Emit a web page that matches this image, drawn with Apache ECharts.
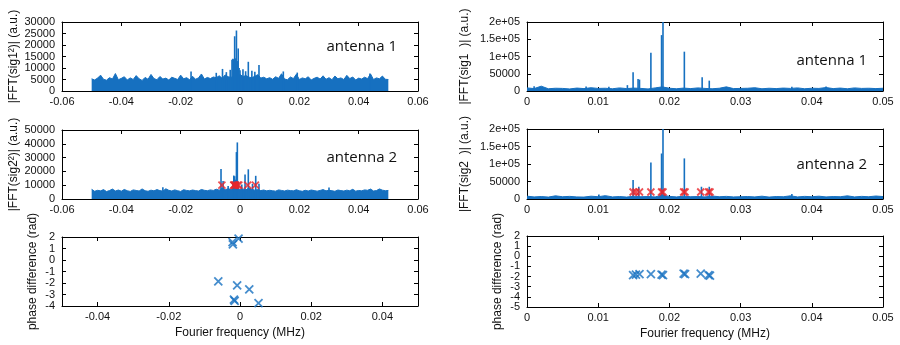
<!DOCTYPE html>
<html><head><meta charset="utf-8">
<script src="https://cdn.jsdelivr.net/npm/echarts@6/dist/echarts.min.js"></script>
<style>html,body{margin:0;padding:0;background:#fff}#c{width:900px;height:345px}</style>
</head><body><div id="c"></div>
<script>
// ---------- DATA ----------
// left column: frequency grid -0.05 .. 0.05 step 0.001 (MHz)
const leftGridStart = -0.05, leftGridStep = 0.001;
const noiseAnt1Left = [
5300,4800,5600,6900,5100,4700,5800,5200,7600,4900,
5500,6200,4800,5700,5000,6700,5300,4600,5900,5100,
7200,5400,4900,6300,5200,5600,4800,6000,5500,5000,
6900,5300,5800,4900,6400,5100,5700,7400,5200,5900,
5400,6100,5800,6600,5500,7000,6200,5900,6800,6500,
7200,6300,6700,6000,5800,6400,7100,5600,6000,5300,
5800,5100,6200,5500,7500,5200,4900,6100,5400,7300,
5000,5700,5300,6200,4800,5500,6000,5200,6600,5100,
5800,4900,6500,5300,5700,5000,6800,5400,6100,4800,
5600,5200,6000,5400,7400,5000,5700,5300,6500,5100,
5000];
const noiseAnt2Left = [
7000,5600,6300,5900,6800,5400,6100,7200,5800,6500,
5700,6900,6000,5500,6600,6200,5800,7300,6000,5600,
6400,5900,6800,6100,5700,7400,6300,5800,6600,6000,
5500,6700,6200,5900,6500,6100,5800,6900,6300,6000,
6600,6200,7100,6400,8100,6700,7400,7000,6800,7600,
6900,7300,6600,8000,7000,6400,6800,6100,6500,5900,
6300,6000,5700,6600,6200,5800,6400,6100,5900,6700,
6000,5600,6300,5800,6500,6100,5700,6200,6800,5900,
6300,6000,5600,6500,6100,5800,6400,6000,7000,5700,
6200,5900,6600,6300,7200,5800,6100,7300,6400,6000,
6200];
const peakFreqAnt1Left = [-0.0165,-0.0080,-0.0059,-0.0046,-0.0033,-0.0027,-0.0024,-0.0021,-0.0018,-0.0015,-0.0012,-0.0009,-0.0006,-0.0003,0.0000,0.0010,0.0019,0.0028,0.0040,0.0050,0.0064,0.0146,0.0193,0.0438];
const peakAmpAnt1Left  = [8500,7900,9600,8200,9200,13600,14000,13800,23800,14200,26300,13000,18500,10000,9000,9500,8600,12700,8800,8400,11300,8500,8000,7600];
const peakFreqAnt2Left = [-0.0260,-0.0064,-0.0057,-0.0040,-0.0024,-0.0021,-0.0018,-0.0015,-0.0012,-0.0009,-0.0006,0.0006,0.0017,0.0028,0.0042,0.0053,0.0064,0.0300];
const peakAmpAnt2Left  = [8600,21800,13000,9500,12000,17000,16500,14000,34000,41000,12500,10500,17800,21500,11000,16800,11000,8300];
const selFreqLeft  = [-0.0061,-0.0021,-0.0020,-0.0017,-0.0015,-0.0008,-0.0004,0.0026,0.0052];
const phaseLeft    = [-1.85,1.55,1.35,-3.45,-3.55,-2.2,1.85,-2.55,-3.75];
const markLevelLeft = 10000;

// right column: frequency grid 0 .. 0.05 step 0.001
const rightGridStart = 0, rightGridStep = 0.001;
const noiseAnt1Right = [9000,7000,14000,6500,8000,7500,6000,8500,7000,9500,
7500,8000,6500,9000,7000,8500,7500,6000,9000,12000,
8000,6500,8500,7000,9000,7500,6500,8000,12000,7000,
7500,8000,9500,6500,8000,7000,8500,7500,9000,6500,
8000,7500,10000,7000,8500,6500,9000,7500,8000,7000,8000];
const noiseAnt2Right = [8000,6000,7000,5500,9000,6500,7500,6000,5500,8000,
6500,9500,6000,7000,5500,8000,6500,7000,6000,11000,
7500,6000,8000,6500,7000,6000,8500,6500,7500,6000,
6500,7000,6000,8000,5500,7000,6500,9000,6000,7500,
6500,8000,6000,7000,6500,9000,6000,7500,6500,8500,7000];
const peakFreqAnt1Right = [0.0010,0.0083,0.0115,0.0141,0.0149,0.0156,0.0158,0.0174,0.0189,0.0191,0.0221,0.0246,0.0256,0.0372,0.0420];
const peakAmpAnt1Right  = [14000,13000,12000,17000,54000,35000,33000,111000,162000,200000,114000,40000,30000,12000,13000];
const peakFreqAnt2Right = [0.0101,0.0149,0.0157,0.0174,0.0189,0.0191,0.0221,0.0245,0.0256,0.0372];
const peakAmpAnt2Right  = [13000,54000,35000,104000,130000,200000,116000,35000,35000,14000];
const selFreqRight = [0.0149,0.0153,0.0158,0.0174,0.0189,0.0191,0.0220,0.0222,0.0244,0.0255,0.0257];
const phaseRight   = [-1.85,-1.8,-1.75,-1.75,-1.8,-1.85,-1.7,-1.75,-1.7,-1.85,-1.9];
const markLevelRight = 20000;

// tick values and labels
const xTicksSpecLeft = [-0.06,-0.04,-0.02,0,0.02,0.04,0.06];
const xLabelsSpecLeft = ['-0.06','-0.04','-0.02','0','0.02','0.04','0.06'];
const xTicksPhaseLeft = [-0.04,-0.02,0,0.02,0.04];
const xLabelsPhaseLeft = ['-0.04','-0.02','0','0.02','0.04'];
const xTicksRight = [0,0.01,0.02,0.03,0.04,0.05];
const xLabelsRight = ['0','0.01','0.02','0.03','0.04','0.05'];
const yTicks1 = [0,5000,10000,15000,20000,25000,30000];
const yLabels1 = ['0','5000','10000','15000','20000','25000','30000'];
const yTicks2 = [0,10000,20000,30000,40000,50000];
const yLabels2 = ['0','10000','20000','30000','40000','50000'];
const yTicks3 = [-4,-3,-2,-1,0,1,2];
const yLabels3 = ['-4','-3','-2','-1','0','1','2'];
const yTicksR = [0,50000,100000,150000,200000];
const yLabelsR = ['0','50000','1e+05','1.5e+05','2e+05'];
const yTicks6 = [-5,-4,-3,-2,-1,0,1,2];
const yLabels6 = ['-5','-4','-3','-2','-1','0','1','2'];

// ---------- CHART ----------
const BLUE = '#1670c0', RED = '#e8262b';
const FONT = 'Liberation Sans';
const grids = [
  {left:62, top:22, width:356, height:69},
  {left:62, top:130, width:356, height:69},
  {left:62, top:237, width:356, height:69},
  {left:527, top:22, width:356, height:69},
  {left:527, top:129, width:356, height:70},
  {left:527, top:236, width:356, height:71}
];
function fmt(ticks, labels){
  return function(v){
    for (let i=0;i<ticks.length;i++){ if (Math.abs(ticks[i]-v) < 1e-9*Math.max(1,Math.abs(ticks[i]))) return labels[i]; }
    return '';
  };
}
const xAxes = [], yAxes = [], extraYAxes = [];
const labelBase = {fontSize:11, color:'#111', fontFamily:FONT, showMinLabel:true, showMaxLabel:true, hideOverlap:false, interval:0};
function addAxes(gi, xr, xt, xl, yr, yt, yl, yName, yNameGap, xName, splitLabels){
  const common = {type:'value', gridIndex:gi, splitLine:{show:false},
    axisLine:{show:true, onZero:false, lineStyle:{color:'#000', width:1}}};
  xAxes.push(Object.assign({}, common, {min:xr[0], max:xr[1], position:'bottom',
    axisTick:{show:true, inside:true, length:4, customValues:xt, lineStyle:{color:'#000'}},
    axisLabel:Object.assign({show:true, customValues:xt, formatter:fmt(xt,xl), margin:5}, labelBase),
    name: xName || '', nameLocation:'middle', nameGap:21,
    nameTextStyle:{fontSize:12, color:'#111', fontFamily:FONT}}));
  xAxes.push(Object.assign({}, common, {min:xr[0], max:xr[1], position:'top',
    axisTick:{show:true, inside:true, length:4, customValues:xt, lineStyle:{color:'#000'}},
    axisLabel:{show:false}}));
  // labels on the left: when too dense, alternate them over two coincident axes
  const mainLabelVals = splitLabels ? yt.filter((v,i)=>i%2===0) : yt;
  yAxes.push(Object.assign({}, common, {min:yr[0], max:yr[1], position:'left',
    axisTick:{show:true, inside:true, length:4, customValues:yt, lineStyle:{color:'#000'}},
    axisLabel:Object.assign({show:true, customValues:mainLabelVals, formatter:fmt(yt,yl), margin:7}, labelBase),
    name:yName, nameLocation:'middle', nameGap:yNameGap, nameRotate:90,
    nameTextStyle:{fontSize:12, color:'#111', fontFamily:FONT}}));
  yAxes.push(Object.assign({}, common, {min:yr[0], max:yr[1], position:'right',
    axisTick:{show:true, inside:true, length:4, customValues:yt, lineStyle:{color:'#000'}},
    axisLabel:{show:false}}));
  if (splitLabels){
    extraYAxes.push({type:'value', gridIndex:gi, min:yr[0], max:yr[1], position:'left', offset:0,
      splitLine:{show:false}, axisLine:{show:false, onZero:false}, axisTick:{show:false},
      axisLabel:Object.assign({show:true, customValues:yt.filter((v,i)=>i%2===1), formatter:fmt(yt,yl), margin:7}, labelBase)});
  }
}
addAxes(0,[-0.06,0.06],xTicksSpecLeft,xLabelsSpecLeft,[0,30000],yTicks1,yLabels1,'|FFT(sig1²)| (a.u.)',42);
addAxes(1,[-0.06,0.06],xTicksSpecLeft,xLabelsSpecLeft,[0,50000],yTicks2,yLabels2,'|FFT(sig2²)| (a.u.)',42);
addAxes(2,[-0.05,0.05],xTicksPhaseLeft,xLabelsPhaseLeft,[-4,2],yTicks3,yLabels3,'phase difference (rad)',23,'Fourier frequency (MHz)');
addAxes(3,[0,0.05],xTicksRight,xLabelsRight,[0,200000],yTicksR,yLabelsR,'|FFT(sig1  )| (a.u.)',56);
addAxes(4,[0,0.05],xTicksRight,xLabelsRight,[0,200000],yTicksR,yLabelsR,'|FFT(sig2  )| (a.u.)',56);
addAxes(5,[0,0.05],xTicksRight,xLabelsRight,[-5,2],yTicks6,yLabels6,'phase difference (rad)',23,'Fourier frequency (MHz)', true);

function gridPts(start, step, vals){
  return vals.map((v,i)=>[+(start+i*step).toFixed(6), v]);
}
function pairs(xs, ys){ return xs.map((x,i)=>[x, ys[i]]); }
function levelPts(xs, level){ return xs.map(x=>[x, level]); }

const XPATH = 'path://M0 0L10 10M10 0L0 10';
const series = [];
function spectrum(gi, noise, start, step, pf, pa){
  series.push({type:'line', xAxisIndex:gi*2, yAxisIndex:gi*2, data:gridPts(start,step,noise),
    symbol:'none', lineStyle:{color:BLUE, width:1}, areaStyle:{color:BLUE, opacity:1}, z:2, silent:true});
  series.push({type:'bar', xAxisIndex:gi*2, yAxisIndex:gi*2, data:pairs(pf,pa),
    barWidth:1.6, itemStyle:{color:BLUE}, z:3, silent:true});
}
function crosses(gi, data, color, size){
  series.push({type:'scatter', xAxisIndex:gi*2, yAxisIndex:gi*2, data:data,
    symbol:XPATH, symbolSize:size, itemStyle:{color:'rgba(0,0,0,0)', borderColor:color, borderWidth:1.8}, z:5, silent:true});
}
spectrum(0, noiseAnt1Left, leftGridStart, leftGridStep, peakFreqAnt1Left, peakAmpAnt1Left);
spectrum(1, noiseAnt2Left, leftGridStart, leftGridStep, peakFreqAnt2Left, peakAmpAnt2Left);
crosses(1, levelPts(selFreqLeft, markLevelLeft), RED, 7);
crosses(2, pairs(selFreqLeft, phaseLeft), BLUE, 8);
spectrum(3, noiseAnt1Right, rightGridStart, rightGridStep, peakFreqAnt1Right, peakAmpAnt1Right);
spectrum(4, noiseAnt2Right, rightGridStart, rightGridStep, peakFreqAnt2Right, peakAmpAnt2Right);
crosses(4, levelPts(selFreqRight, markLevelRight), RED, 7);
crosses(5, pairs(selFreqRight, phaseRight), BLUE, 8);

const antStyle = {fontSize:15, fontFamily:'Open Sans', fill:'#111', textAlign:'right', textVerticalAlign:'middle'};
const chart = echarts.init(document.getElementById('c'), null, {renderer:'canvas'});
chart.setOption({
  animation:false,
  textStyle:{fontFamily:FONT},
  grid:grids,
  xAxis:xAxes,
  yAxis:yAxes.concat(extraYAxes),
  series:series,
  graphic:[
    {type:'text', x:397, y:47, style:Object.assign({text:'antenna 1'}, antStyle)},
    {type:'text', x:397, y:158, style:Object.assign({text:'antenna 2'}, antStyle)},
    {type:'text', x:867, y:61, style:Object.assign({text:'antenna 1'}, antStyle)},
    {type:'text', x:867, y:165, style:Object.assign({text:'antenna 2'}, antStyle)}
  ]
});
</script></body></html>
